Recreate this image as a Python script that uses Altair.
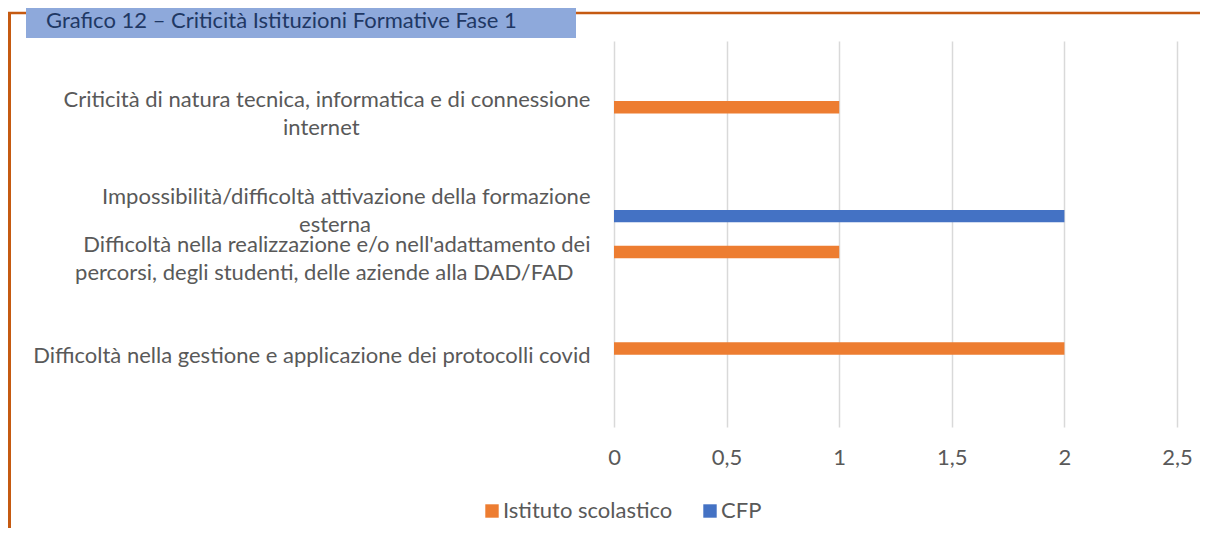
import altair as alt
import pandas as pd

# Categories top -> bottom (blank slots are empty categories in the original chart)
categories = [
    " ",
    "Criticità di natura tecnica, informatica e di connessione|internet",
    "  ",
    "Impossibilità/difficoltà attivazione della formazione|esterna",
    "Difficoltà nella realizzazione e/o nell'adattamento dei|percorsi, degli studenti, delle aziende alla DAD/FAD",
    "   ",
    "Difficoltà nella gestione e applicazione dei protocolli covid",
    "    ",
]
istituto = [0, 1, 0, 0, 1, 0, 2, 0]
cfp = [0, 0, 0, 2, 0, 0, 0, 0]
series = ["Istituto scolastico", "CFP"]
colors = ["#ED7D31", "#4472C4"]
x_ticks = [0, 0.5, 1, 1.5, 2, 2.5]
title_text = "Grafico 12 – Criticità Istituzioni Formative Fase 1"

rows = []
for c, a, b in zip(categories, istituto, cfp):
    rows.append({"cat": c, "serie": series[0], "val": a})
    rows.append({"cat": c, "serie": series[1], "val": b})
df = pd.DataFrame(rows)

FONT = "Lato"
FS = 22
GRAY = "#595959"
NB = "\u00a0"
WJ = "\u2060"

l1 = "split(datum.value,'|')[0]"
l2 = "split(datum.value,'|')[1]"
label_expr = (
    f"indexof(datum.value,'|') < 0 ? ['{WJ}', datum.value] : "
    f"[{l1}, '{WJ}', pad({l2}, length({l2}) + round((length({l1}) - length({l2})) * 0.84), '{NB}') + '{WJ}']"
)

bars = alt.Chart(df).mark_bar().encode(
    x=alt.X(
        "val:Q",
        scale=alt.Scale(domain=[0, 2.5], nice=False),
        axis=alt.Axis(
            values=x_ticks,
            title=None,
            grid=True,
            gridColor="#D9D9D9",
            gridWidth=1.5,
            domain=False,
            ticks=False,
            labelFont=FONT,
            labelFontSize=FS,
            labelColor=GRAY,
            labelPadding=20,
            labelFlush=False,
            labelExpr="replace(toString(datum.value), '.', ',')",
        ),
    ),
    y=alt.Y(
        "cat:N",
        scale=alt.Scale(domain=categories, paddingInner=0.4824, paddingOuter=0.2412),
        axis=alt.Axis(
            title=None,
            domain=False,
            ticks=False,
            grid=False,
            labelFont=FONT,
            labelFontSize=FS,
            labelColor=GRAY,
            labelPadding=24,
            labelAlign="right",
            labelBaseline="middle",
            labelLineHeight=14,
            labelOffset=-13,
            labelLimit=900,
            labelExpr=label_expr,
        ),
    ),
    yOffset=alt.YOffset("serie:N", scale=alt.Scale(domain=series)),
    color=alt.Color(
        "serie:N",
        scale=alt.Scale(domain=series, range=colors),
        legend=alt.Legend(
            title=None,
            orient="none",
            direction="horizontal",
            legendX=-133,
            legendY=459,
            symbolType="square",
            symbolSize=180,
            symbolStrokeWidth=0,
            labelFont=FONT,
            labelFontSize=FS,
            labelColor=GRAY,
            labelOffset=0,
            labelLimit=400,
            columnPadding=26,
        ),
    ),
)

one = pd.DataFrame({"k": [0]})

frame_top = alt.Chart(one).mark_rule(color="#C55A11", strokeWidth=2.5).encode(
    x=alt.value(-606), x2=alt.value(586), y=alt.value(-28)
)
frame_left = alt.Chart(one).mark_rule(color="#C55A11", strokeWidth=3).encode(
    x=alt.value(-604.5), y=alt.value(-29), y2=alt.value(490)
)
title_box = alt.Chart(one).mark_rect(color="#8EA9DB").encode(
    x=alt.value(-588), x2=alt.value(-38), y=alt.value(-40), y2=alt.value(-3)
)
title = alt.Chart(one).mark_text(
    text=title_text, font=FONT, fontSize=FS, color="#1F3864", align="left", baseline="middle"
).encode(x=alt.value(-568), y=alt.value(-20))

chart = alt.layer(frame_top, frame_left, title_box, title, bars).properties(
    width=563,
    height=386,
    autosize=alt.AutoSizeParams(type="none"),
    padding={"left": 606, "top": 33, "right": 23, "bottom": 101},
).configure_view(stroke=None)

chart.save("out.html", embed_options={"renderer": "svg", "actions": False})
